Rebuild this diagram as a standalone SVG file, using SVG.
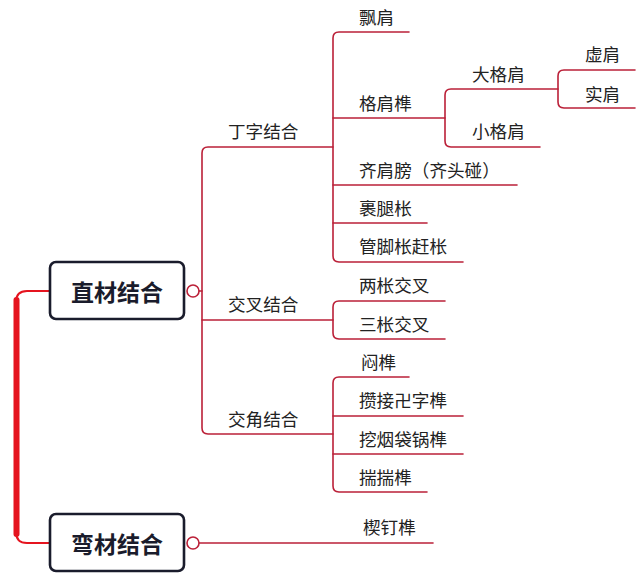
<svg xmlns="http://www.w3.org/2000/svg" width="640" height="580" viewBox="0 0 640 580">
<style>
.bg{fill:#ffffff}
.ln{fill:none;stroke:#bb2038;stroke-width:1.6;stroke-linecap:round}
.br{fill:none;stroke:#e5141f;stroke-linecap:round}
.box{fill:#ffffff;stroke:#1a1c2c;stroke-width:2.6}
.dot{fill:#ffffff;stroke:#bb2038;stroke-width:1.6}
.t{font-family:"Noto Sans CJK SC","Noto Sans",sans-serif;font-size:17.6px;fill:#222222}
.m{font-family:"Noto Sans CJK SC","Noto Sans",sans-serif;font-size:23px;font-weight:bold;fill:#1a1c2c;text-anchor:middle}
</style>
<rect class="bg" x="0" y="0" width="640" height="580"/>
<g id="connectors">
<path class="br" stroke-width="2" d="M50,291 H27 Q16,291 16,302 V532 Q16,543 27,543 H50"/>
<path class="br" stroke-width="6" d="M16.5,300 V534"/>
<path class="ln" d="M199,291 H202"/>
<path class="ln" d="M333,147 H208 Q202,147 202,153 V428 Q202,434 208,434 H333"/>
<path class="ln" d="M202,320 H333"/>
<path class="ln" d="M409,32 H339 Q333,32 333,38 V256 Q333,262 339,262 H463"/>
<path class="ln" d="M333,118 H445"/>
<path class="ln" d="M333,185 H517"/>
<path class="ln" d="M333,223 H427"/>
<path class="ln" d="M540,147 H451 Q445,147 445,141 V95 Q445,89 451,89 H558"/>
<path class="ln" d="M635,70 H564 Q558,70 558,76 V102 Q558,108 564,108 H635"/>
<path class="ln" d="M445,301 H339 Q333,301 333,307 V333 Q333,339 339,339 H445"/>
<path class="ln" d="M409,377 H339 Q333,377 333,383 V486 Q333,492 339,492 H427"/>
<path class="ln" d="M333,416 H463"/>
<path class="ln" d="M333,454 H463"/>
<path class="ln" d="M199,543 H433"/>
</g>
<g id="zhicai">
<rect class="box" x="50" y="262" width="134" height="57" rx="6"/>
<text class="m" x="117" y="301">直材结合</text>
<circle class="dot" cx="193" cy="291" r="6"/>
</g>
<g id="wancai">
<rect class="box" x="50" y="514" width="134" height="57" rx="6"/>
<text class="m" x="117" y="553">弯材结合</text>
<circle class="dot" cx="193" cy="543" r="6"/>
</g>
<g id="dingzi"><text class="t" x="228" y="138">丁字结合</text></g>
<g id="jiaocha"><text class="t" x="228" y="311">交叉结合</text></g>
<g id="jiaojiao"><text class="t" x="228" y="426">交角结合</text></g>
<g id="piaojian"><text class="t" x="359" y="24">飘肩</text></g>
<g id="gejiansun"><text class="t" x="359" y="110">格肩榫</text></g>
<g id="qijianbang"><text class="t" x="359" y="177">齐肩膀（齐头碰）</text></g>
<g id="guotuicheng"><text class="t" x="359" y="215">裹腿枨</text></g>
<g id="guanjiao"><text class="t" x="359" y="253">管脚枨赶枨</text></g>
<g id="dagejian"><text class="t" x="472" y="81">大格肩</text></g>
<g id="xiaogejian"><text class="t" x="472" y="138">小格肩</text></g>
<g id="xujian"><text class="t" x="585" y="61">虚肩</text></g>
<g id="shijian"><text class="t" x="585" y="101">实肩</text></g>
<g id="liangcheng"><text class="t" x="359" y="292">两枨交叉</text></g>
<g id="sancheng"><text class="t" x="359" y="331">三枨交叉</text></g>
<g id="mensun"><text class="t" x="361" y="369">闷榫</text></g>
<g id="cuanjie"><text class="t" x="359" y="407">攒接卍字榫</text></g>
<g id="wayandai"><text class="t" x="359" y="446">挖烟袋锅榫</text></g>
<g id="chuaichuai"><text class="t" x="359" y="484">揣揣榫</text></g>
<g id="xiedingsun"><text class="t" x="363" y="534">楔钉榫</text></g>
</svg>
